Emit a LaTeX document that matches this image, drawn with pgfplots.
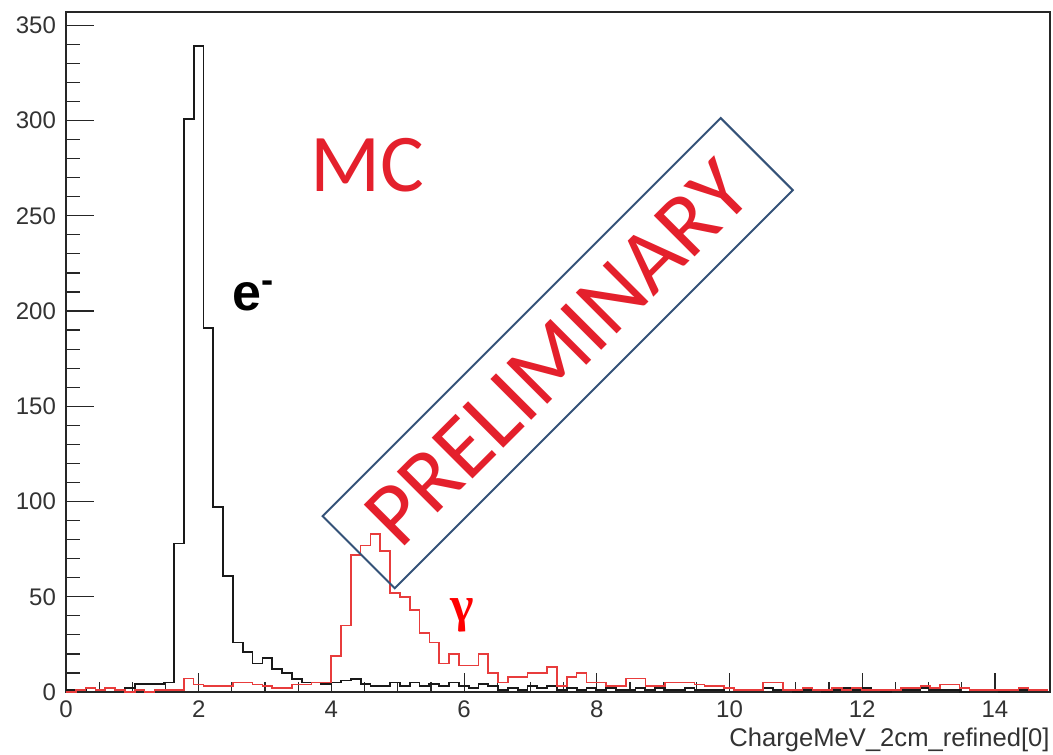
\documentclass[border=0pt]{standalone}
\usepackage{fontspec}
\setmainfont{Liberation Sans}
\newfontfamily\calib{Carlito}
\newfontfamily\tnr{Liberation Serif}
\usepackage{pgfplots}
\usepackage{pgfplotstable}
\pgfplotsset{compat=1.18}
\definecolor{mcred}{RGB}{228,32,44}
\definecolor{histred}{RGB}{232,60,60}
\definecolor{boxblue}{RGB}{52,82,120}

\pgfplotstableread{
x e g
0 1 0
0.148 1 1
0.296 2 2
0.444 1 1
0.592 2 2
0.74 1 1
0.888 2 0
1.036 4 1
1.184 4 0
1.332 4 1
1.48 5 1
1.628 78 1
1.776 301 7
1.924 339 4
2.072 191 3
2.22 97 3
2.368 61 3
2.516 26 5
2.664 21 5
2.812 15 4
2.96 18 3
3.108 12 2
3.256 10 2
3.404 7 4
3.552 5 4
3.7 5 5
3.848 4 5
3.996 5 19
4.144 6 35
4.292 7 72
4.44 4 77
4.588 3 83
4.736 3 74
4.884 5 52
5.032 3 50
5.18 5 43
5.328 3 31
5.476 4 26
5.624 3 15
5.772 5 20
5.92 3 14
6.068 2 14
6.216 4 20
6.364 3 10
6.512 1 5
6.66 2 8
6.808 1 8
6.956 3 10
7.104 2 10
7.252 3 13
7.4 1 3
7.548 2 8
7.696 1 10
7.844 2 5
7.992 1 5
8.14 2 3
8.288 1 3
8.436 1 7
8.584 2 7
8.732 1 3
8.88 2 3
9.028 1 5
9.176 1 5
9.324 2 5
9.472 1 4
9.62 1 3
9.768 1 3
9.916 2 2
10.064 1 1
10.212 1 1
10.36 1 1
10.508 2 5
10.656 1 5
10.804 1 1
10.952 0 1
11.1 1 2
11.248 1 1
11.396 0 1
11.544 1 2
11.692 2 1
11.84 1 2
11.988 2 1
12.136 1 1
12.284 0 1
12.432 1 1
12.58 1 2
12.728 1 2
12.876 2 3
13.024 1 2
13.172 1 4
13.32 1 4
13.468 0 2
13.616 1 1
13.764 1 1
13.912 1 1
14.06 0 1
14.208 1 1
14.356 1 2
14.504 1 1
14.652 1 1
14.8 1 1
}\hist

\begin{document}
\begin{tikzpicture}
\useasboundingbox (-33pt,-31pt) rectangle (493.5pt,346pt);
\begin{axis}[
  scale only axis, width=492pt, height=340pt,
  xmin=0, xmax=14.83, ymin=0, ymax=357,
  axis line style={line width=0.7pt, black!85},
  tick align=inside, xtick pos=bottom, ytick pos=left,
  xtick={0,2,...,14}, ytick={0,50,...,350},
  minor x tick num=3, minor y tick num=4,
  major tick length=14pt, minor tick length=7pt,
  xtick style={/pgfplots/major tick length=9.5pt,/pgfplots/minor tick length=5pt, line width=0.6pt, black!85},
  ytick style={line width=0.6pt, black!85},
  /pgf/number format/assume math mode=true,
  tick label style={font=\fontsize{12}{12}\selectfont, text=black!80},
  yticklabel style={xshift=-1.5pt},
  xticklabel style={yshift=-1pt},
  xlabel={ChargeMeV\_2cm\_refined[0]},
  xlabel style={at={(axis description cs:1,0)}, anchor=north east, inner sep=0pt, yshift=-18pt, font=\fontsize{12.8}{12.8}\selectfont, text=black!80},
  clip=true,
]
\addplot[const plot mark left, black!90, line width=0.9pt] table[x=x, y=e] {\hist};
\addplot[const plot mark left, histred, line width=0.8pt] table[x=x, y=g] {\hist};
\node[text=mcred, font=\calib\fontsize{41}{41}\selectfont] at (axis cs:4.54,276.5) {MC};
\node[anchor=base west, inner sep=0pt, font=\bfseries\fontsize{26}{26}\selectfont] at (axis cs:2.5,200.4) {e\textsuperscript{-}};
\node[text=red, font=\tnr\bfseries\fontsize{25}{25}\selectfont] at (axis cs:5.97,40) {γ};
\node[draw=boxblue, line width=1pt, rotate=45, minimum width=281.5pt, minimum height=51pt, inner sep=0pt, text=mcred, font=\calib\fontsize{45}{45}\selectfont] at (axis cs:7.41,177.9) {PRELIMINARY};
\end{axis}
\end{tikzpicture}
\end{document}
